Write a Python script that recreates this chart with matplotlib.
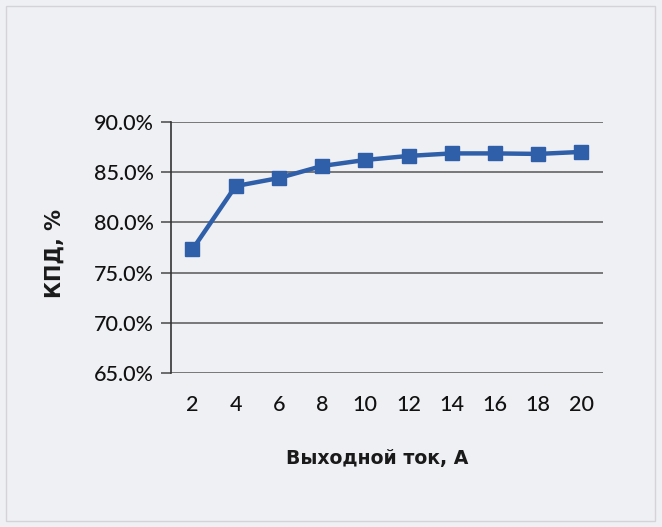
import matplotlib
matplotlib.use('Agg')
import matplotlib.pyplot as plt
from matplotlib.patches import Rectangle
from matplotlib.ticker import FuncFormatter

# output current, A and efficiency, %
current = ['2', '4', '6', '8', '10', '12', '14', '16', '18', '20']
efficiency = [77.3, 83.6, 84.4, 85.6, 86.2, 86.6, 86.85, 86.85, 86.8, 87.0]
y_ticks = [65, 70, 75, 80, 85, 90]

BG = '#eff0f4'
LINE = '#2f5fa9'

fig = plt.figure(figsize=(6.62, 5.27), dpi=100, facecolor=BG)
fig.patches.append(Rectangle((0.009, 0.011), 0.981, 0.977, transform=fig.transFigure,
                             fill=False, edgecolor='#d4d4d8', linewidth=1.0))

ax = fig.add_axes([0.258, 0.292, 0.653, 0.477])
ax.set_facecolor(BG)

pos = list(range(len(current)))
ax.plot(pos, efficiency, color=LINE, linewidth=3.2, marker='s', markersize=10,
        markerfacecolor=LINE, markeredgecolor=LINE, zorder=3)

ax.set_xlim(-0.5, len(current) - 0.5)
ax.set_ylim(65, 90)
ax.set_xticks(pos)
ax.set_xticklabels(current)
ax.set_yticks(y_ticks)
ax.yaxis.set_major_formatter(FuncFormatter(lambda v, _: f'{v:.1f}%'))

ax.grid(axis='y', color='#6e6e6e', linewidth=1.3)
ax.set_axisbelow(True)
for side in ['top', 'right', 'bottom']:
    ax.spines[side].set_visible(False)
ax.spines['left'].set_color('#333333')
ax.spines['left'].set_linewidth(1.2)

ax.tick_params(axis='y', length=7, width=1.2, color='#555555', pad=5,
               labelsize=15.5, labelcolor='#111111')
ax.tick_params(axis='x', length=0, pad=16, labelsize=15.5, labelcolor='#111111')
for lbl in ax.get_xticklabels() + ax.get_yticklabels():
    lbl.set_family(['Lato', 'DejaVu Sans'])
    lbl.set_fontweight('medium')

ax.set_xlabel('Выходной ток, А', fontsize=13.6, fontweight='bold',
              family='DejaVu Sans', color='#1a1a1a')
ax.set_ylabel('КПД, %', fontsize=15, fontweight='bold',
              family='DejaVu Sans', color='#1a1a1a')
ax.xaxis.set_label_coords(0.478, -0.30)
ax.yaxis.set_label_coords(-0.245, 0.475)

fig.savefig('out.png', dpi=100, facecolor=BG)
